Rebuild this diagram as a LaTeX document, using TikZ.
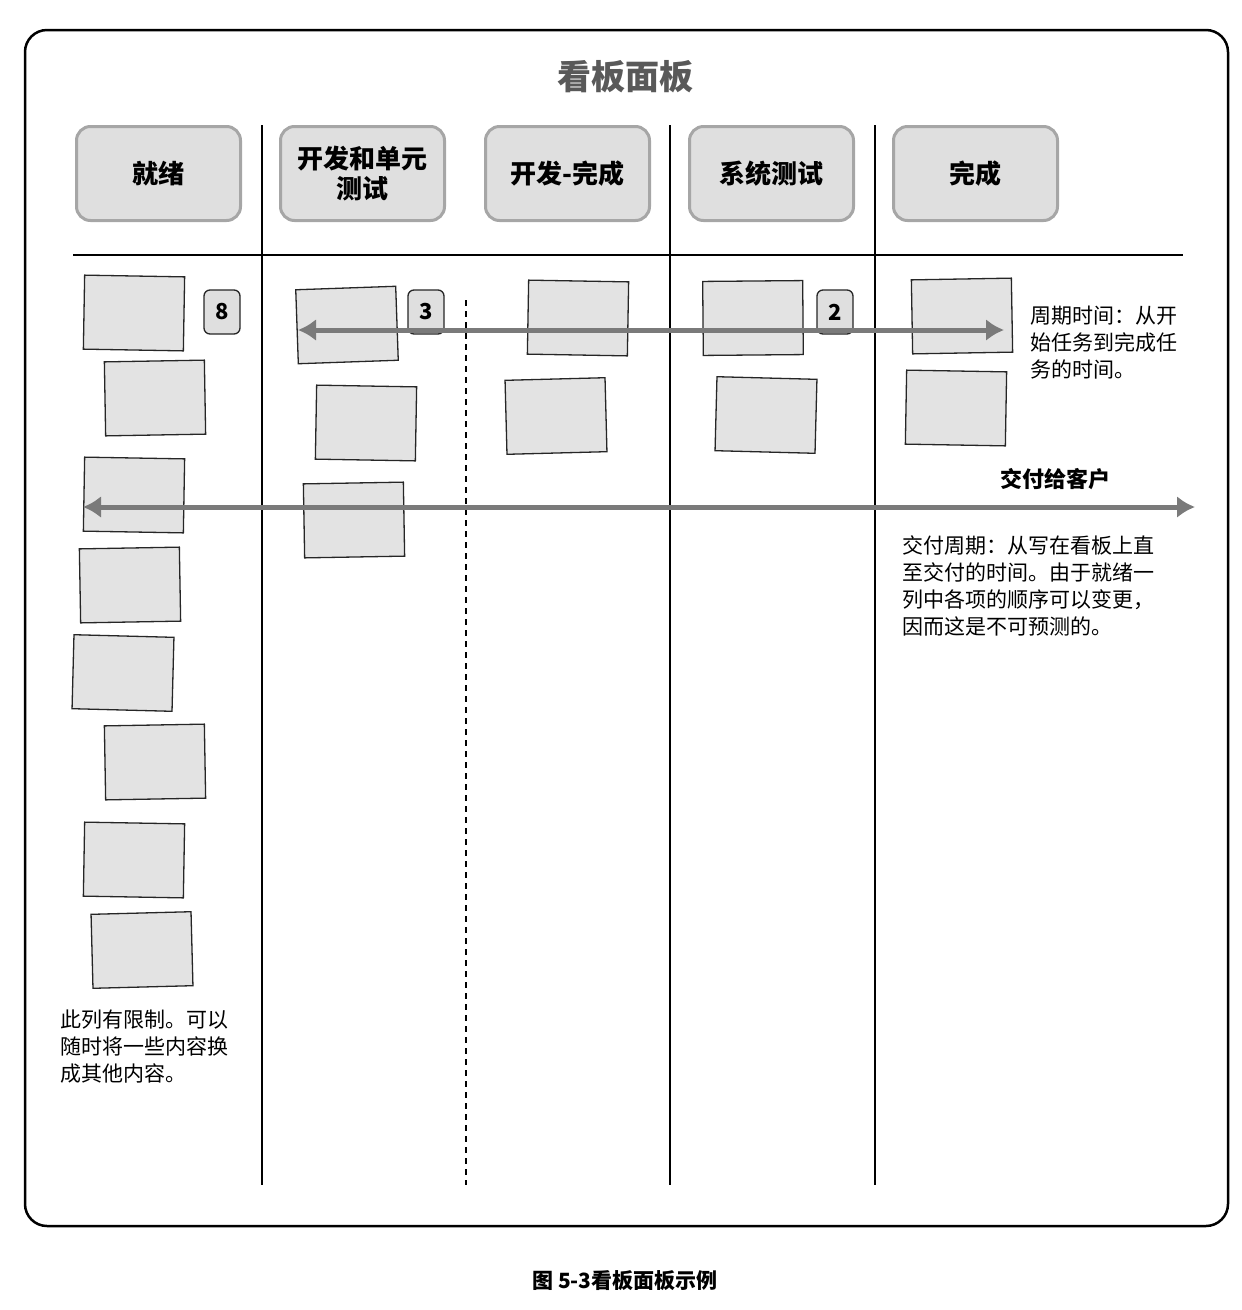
\documentclass[tikz,border=0pt]{standalone}
\usepackage{fontspec}
\setmainfont{Noto Sans CJK SC}
\usetikzlibrary{arrows.meta}
\begin{document}
\begin{tikzpicture}[x=1pt,y=-1pt,
  hdr/.style={draw=gray!70,line width=3pt,fill=gray!25,rounded corners=14pt,minimum width=164pt,minimum height=94pt,font=\fontsize{26}{30}\selectfont\bfseries,align=center,inner sep=0pt},
  sticky/.style={draw=black!85,line width=1.3pt,fill=gray!22,minimum width=100pt,minimum height=74pt,inner sep=0pt},
  badge/.style={draw=black!85,line width=1.3pt,fill=gray!25,rounded corners=6pt,minimum width=36pt,minimum height=44pt,font=\fontsize{22}{24}\selectfont\bfseries,inner sep=0pt},
  vline/.style={line width=1.8pt},
  garrow/.style={draw=gray!70!black!80,line width=5pt,{Latex[length=18pt,width=22pt]}-{Latex[length=18pt,width=22pt]}},
  note/.style={font=\fontsize{21}{27}\selectfont,align=left,anchor=north west,inner sep=0pt}
]
\useasboundingbox (0,0) rectangle (1242,1310);
\draw[line width=2.5pt,rounded corners=22pt] (25,30) rectangle (1228,1226);
\node[font=\fontsize{34}{38}\selectfont\bfseries,text=gray!70!black] (title) at (625,77) {看板面板};
\node[hdr] (h1) at (158.5,173.5) {就绪};
\node[hdr] (h2) at (362.5,173.5) {开发和单元\\测试};
\node[hdr] (h3) at (567.5,173.5) {开发-完成};
\node[hdr] (h4) at (771.5,173.5) {系统测试};
\node[hdr] (h5) at (975.5,173.5) {完成};
\coordinate (hl1) at (73,255); \coordinate (hl2) at (1183,255);
\draw[vline] (hl1) -- (hl2);
\foreach \x/\n in {262/a,670/b,875/c}{
  \coordinate (t\n) at (\x,125); \coordinate (b\n) at (\x,1185);
  \draw[vline] (t\n) -- (b\n);}
\coordinate (dt) at (466,300); \coordinate (db) at (466,1185);
\draw[line width=1.8pt,dash pattern=on 6pt off 5pt] (dt) -- (db);
\foreach \n/\x/\y/\a in {s1/134/313/-1,s2/155/398/1,s3/134/495/-1,s4/130/585/1,s5/123/673/-1.5,s6/155/762/1,s7/134/860/-1,s8/142/950/1.5,
  s9/347/325/2,s10/366/423/-1,s11/354/520/1,s12/578/318/-1,s13/556/416/1.5,s14/753/318/0.5,s15/766/415/-1.5,s16/962/316/1,s17/956/408/-1}{
  \node[sticky,rotate=\a] (\n) at (\x,\y) {};}
\node[badge] (b8) at (222,312) {8};
\node[badge] (b3) at (426,312) {3};
\node[badge] (b2) at (835,312) {2};
\coordinate (a1l) at (298,330); \coordinate (a1r) at (1004,330);
\draw[garrow] (a1l) -- (a1r);
\coordinate (a2l) at (83,507); \coordinate (a2r) at (1195,507);
\draw[garrow] (a2l) -- (a2r);
\node[note] (n1) at (1030,306) {周期时间：从开\\始任务到完成任\\务的时间。};
\node[font=\fontsize{22}{26}\selectfont\bfseries] (n2) at (1055,479) {交付给客户};
\node[note] (n3) at (902,535) {交付周期：从写在看板上直\\至交付的时间。由于就绪一\\列中各项的顺序可以变更，\\因而这是不可预测的。};
\node[note] (n4) at (60,1010) {此列有限制。可以\\随时将一些内容换\\成其他内容。};
\node[font=\fontsize{21}{24}\selectfont\bfseries] (cap) at (625,1281) {图 5-3看板面板示例};
\end{tikzpicture}
\end{document}
